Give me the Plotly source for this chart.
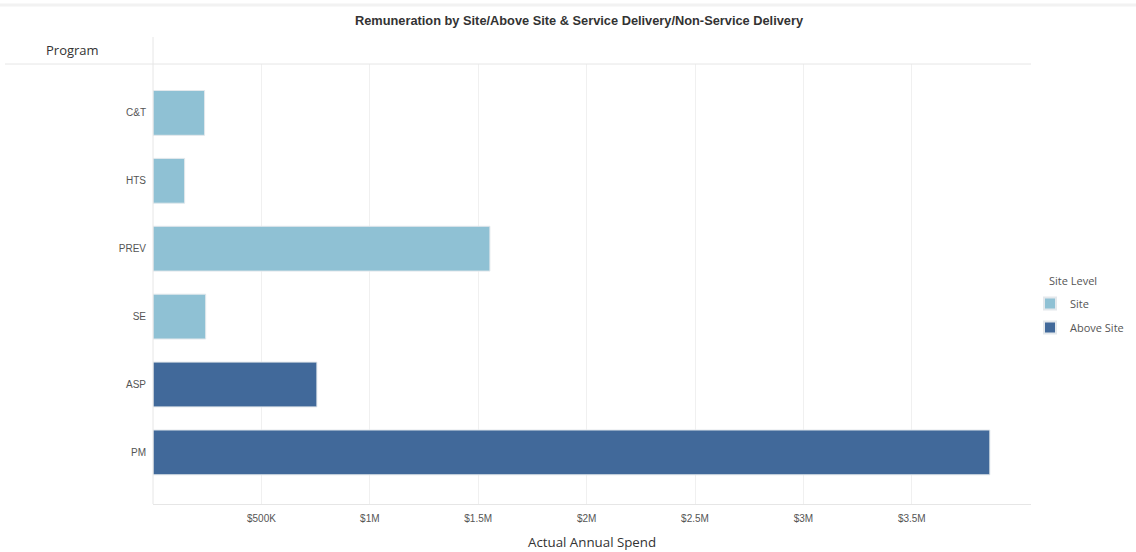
import plotly.graph_objects as go

programs = ["C&T", "HTS", "PREV", "SE", "ASP", "PM"]
spend = [238000, 146000, 1554000, 243000, 756000, 3860000]
site_level = ["Site", "Site", "Site", "Site", "Above Site", "Above Site"]

level_order = ["Site", "Above Site"]
level_colors = {"Site": "#8fc1d4", "Above Site": "#41699a"}

tick_vals = [500000, 1000000, 1500000, 2000000, 2500000, 3000000, 3500000]
tick_text = ["$500K", "$1M", "$1.5M", "$2M", "$2.5M", "$3M", "$3.5M"]

W, H = 1136, 552
L, R, T, B = 153, 1031, 64, 504
pw, ph = R - L, B - T


def px_x(p):
    return (p - L) / pw


def px_y(p):
    return (B - p) / ph


fig = go.Figure()
for lvl in level_order:
    ys = [p for p, l in zip(programs, site_level) if l == lvl]
    xs = [v for v, l in zip(spend, site_level) if l == lvl]
    fig.add_trace(go.Bar(
        x=xs, y=ys, orientation="h", name=lvl, legendgroup=lvl,
        marker=dict(color=level_colors[lvl], line=dict(color="#e3e8ec", width=1)),
        width=0.66,
        hovertemplate="%{y}: %{x:$,.0f}<extra>" + lvl + "</extra>",
    ))

fig.update_layout(
    width=W, height=H,
    margin=dict(l=L, r=W - R, t=T, b=H - B, autoexpand=False),
    paper_bgcolor="white", plot_bgcolor="white",
    barmode="overlay",
    showlegend=True,
    title=dict(
        text="<b>Remuneration by Site/Above Site & Service Delivery/Non-Service Delivery</b>",
        x=579 / W, xanchor="center", y=1 - 21 / H, yanchor="middle",
        font=dict(family="Arial, Liberation Sans", size=12.8, color="#333333"),
    ),
    xaxis=dict(
        range=[0, (R - L) / 216.8 * 1e6],
        tickvals=tick_vals, ticktext=tick_text,
        tickfont=dict(family="Arial, Liberation Sans", size=10, color="#555555"),
        showgrid=True, gridcolor="#f0f0f0", gridwidth=1,
        zeroline=False, showline=True, linecolor="#e6e6e6", linewidth=1,
        ticks="", ticklabelstandoff=5,
        fixedrange=True,
    ),
    yaxis=dict(
        type="category",
        categoryorder="array", categoryarray=programs,
        range=[5.76, -0.72],
        tickfont=dict(family="Arial, Liberation Sans", size=10, color="#555555"),
        showgrid=False, zeroline=False, showline=False,
        ticks="", ticklabelstandoff=6,
        fixedrange=True,
    ),
    legend=dict(
        font=dict(family="Open Sans", size=11, color="#555555"),
        x=px_x(1030), xanchor="left", y=px_y(289), yanchor="top",
        tracegroupgap=5, itemsizing="constant",
        bgcolor="rgba(0,0,0,0)",
    ),
    annotations=[
        dict(text="Program", xref="paper", yref="paper", x=px_x(72), y=px_y(50),
             xanchor="center", yanchor="middle", showarrow=False,
             font=dict(family="Open Sans", size=13, color="#333333")),
        dict(text="Actual Annual Spend", xref="paper", yref="paper", x=px_x(592), y=px_y(542),
             xanchor="center", yanchor="middle", showarrow=False,
             font=dict(family="Open Sans", size=13.3, color="#333333")),
        dict(text="Site Level", xref="paper", yref="paper", x=px_x(1047), y=px_y(280),
             xanchor="left", yanchor="middle", showarrow=False,
             font=dict(family="Open Sans", size=11, color="#555555")),
    ],
    shapes=[
        dict(type="line", xref="paper", yref="paper", x0=px_x(5), x1=1, y0=1, y1=1,
             line=dict(color="#e6e6e6", width=1)),
        dict(type="line", xref="paper", yref="paper", x0=0, x1=0, y0=0, y1=px_y(37),
             line=dict(color="#e6e6e6", width=1)),
        dict(type="line", xref="paper", yref="paper", x0=px_x(0), x1=px_x(W), y0=px_y(5), y1=px_y(5),
             line=dict(color="#f2f2f2", width=3)),
    ],
)

fig.write_html("out.html")
